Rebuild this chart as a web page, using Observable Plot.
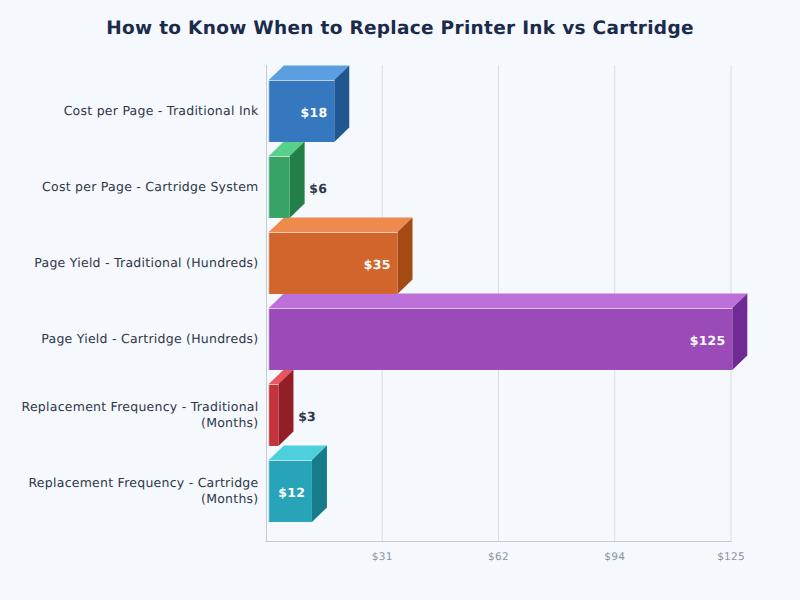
<!DOCTYPE html>
<html>
<head>
<meta charset="utf-8">
<script src="https://cdn.jsdelivr.net/npm/d3@7"></script>
<script src="https://cdn.jsdelivr.net/npm/@observablehq/plot@0.6"></script>
<style>
html,body{margin:0;padding:0;background:#f5f8fc;overflow:hidden}
#title{height:58px;text-align:center;font:bold 18.5px "DejaVu Sans",sans-serif;line-height:58px;color:#1a2b4b;letter-spacing:.3px;text-rendering:geometricPrecision}
svg{display:block}
svg text{text-rendering:geometricPrecision}
.ylab text{letter-spacing:.25px}
.xlab text{letter-spacing:.25px}
.val text{letter-spacing:.25px}
</style>
</head>
<body>
<div id="title">How to Know When to Replace Printer Ink vs Cartridge</div>
<div id="chart"></div>
<script>
const categories = [
  "Cost per Page - Traditional Ink",
  "Cost per Page - Cartridge System",
  "Page Yield - Traditional (Hundreds)",
  "Page Yield - Cartridge (Hundreds)",
  "Replacement Frequency - Traditional\n(Months)",
  "Replacement Frequency - Cartridge\n(Months)"
];
const values = [18, 6, 35, 125, 3, 12];
const valueLabels = ["$18", "$6", "$35", "$125", "$3", "$12"];
const tickValues = [31.25, 62.5, 93.75, 125];
const tickLabels = ["$31", "$62", "$94", "$125"];
const frontColors = ["#3578c0", "#37a466", "#d2652b", "#9b4bb8", "#c2333c", "#28a4b8"];
const topColors = ["#5a9fe0", "#58cf8b", "#ef8a4e", "#bd70d9", "#e5565e", "#4ecfdd"];
const sideColors = ["#20578f", "#227f48", "#a44a15", "#702a93", "#941e25", "#167c8a"];

const rows = categories.map((category, i) => ({category, value: values[i], label: valueLabels[i], i}));
const insideRows = rows.filter(d => d.value >= 10);
const outsideRows = rows.filter(d => d.value < 10);
const depthX = 15;
const depthY = 14.5;
const font = '"DejaVu Sans", sans-serif';

function faces(index, scales, channels, dimensions, context, next) {
  const g = next(index, scales, channels, dimensions, context);
  const bandwidth = scales.scales.y.bandwidth;
  const extra = d3.create("svg:g");
  for (const i of index) {
    const d = rows[i];
    const left = scales.x(0) + 1.5;
    const right = scales.x(d.value);
    const top = scales.y(d.category);
    const bottom = top + bandwidth;
    extra.append("polygon")
      .attr("points", [[left, top], [right, top], [right + depthX, top - depthY], [left + depthX, top - depthY]].join(" "))
      .attr("fill", topColors[i]);
    extra.append("polygon")
      .attr("points", [[right, top], [right + depthX, top - depthY], [right + depthX, bottom - depthY], [right, bottom]].join(" "))
      .attr("fill", sideColors[i]);
  }
  g.insertBefore(extra.node(), g.firstChild);
  for (const i of index) {
    const d = rows[i];
    const left = scales.x(0) + 1.5;
    const top = scales.y(d.category);
    d3.select(g).append("line")
      .attr("x1", left).attr("x2", scales.x(d.value))
      .attr("y1", top + 0.5).attr("y2", top + 0.5)
      .attr("stroke", "#ffffff").attr("stroke-opacity", 0.7);
    d3.select(g).append("line")
      .attr("x1", left + 0.5).attr("x2", left + 0.5)
      .attr("y1", top).attr("y2", top + bandwidth)
      .attr("stroke", "#ffffff").attr("stroke-opacity", 0.2);
  }
  return g;
}

const chart = Plot.plot({
  width: 800,
  height: 542,
  marginTop: 7,
  marginBottom: 59,
  marginLeft: 265.5,
  marginRight: 69.5,
  style: {background: "transparent", fontFamily: font},
  x: {domain: [0, 125], axis: null},
  y: {domain: categories, paddingInner: 0.184, paddingOuter: 0.2237, align: 0.44, round: false, axis: null},
  marks: [
    Plot.gridX(tickValues, {stroke: "#d5dde5", strokeOpacity: 1}),
    Plot.frame({anchor: "left", stroke: "#c3ccd6", dx: 0.5}),
    Plot.frame({anchor: "bottom", stroke: "#c3ccd6"}),
    Plot.axisX(tickValues, {
      tickSize: 0, tickPadding: 11, fontSize: 10.5, fill: "#8a93a3", label: null, className: "xlab",
      tickFormat: (d) => tickLabels[tickValues.indexOf(d)]
    }),
    Plot.axisY(categories, {
      tickSize: 0, tickPadding: 7.5, fontSize: 12.5, fill: "#2d3748", label: null, dy: -2, className: "ylab",
      lineHeight: 1.28, lineWidth: 40, textOverflow: null, marginLeft: 265.5
    }),
    Plot.barX(rows, {
      x: "value", y: "category", dx: 1.8, insetLeft: 1.5,
      fill: (d) => frontColors[d.i],
      render: faces
    }),
    Plot.text(insideRows, {
      x: "value", y: "category", text: "label", textAnchor: "end", dx: -5.5, dy: 1.5, className: "val",
      fill: "#ffffff", fontSize: 12.5, fontWeight: "bold"
    }),
    Plot.text(outsideRows, {
      x: "value", y: "category", text: "label", textAnchor: "start", dx: 21, dy: 1.5, className: "val",
      fill: "#2d3748", fontSize: 12.5, fontWeight: "bold"
    })
  ]
});
document.getElementById("chart").appendChild(chart);
</script>
</body>
</html>
